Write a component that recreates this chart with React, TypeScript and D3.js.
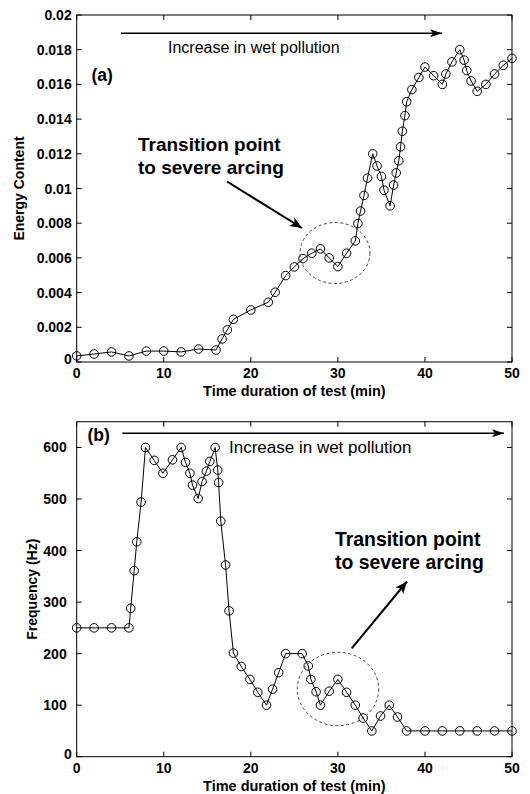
import React from 'react';
import * as d3 from 'd3';

// ---- Data ----
const energyTime = [0, 2, 4, 6, 8, 10, 12, 14, 16, 16.7, 17.3, 18, 20, 22, 22.8, 24, 25, 26, 27, 28, 29, 30, 31, 32, 32.3, 32.6, 33, 33.4, 34, 34.5, 35, 35.3, 36, 36.4, 36.7, 37, 37.2, 37.4, 37.7, 37.9, 38.5, 39.3, 40, 41, 42, 42.4, 43.1, 44, 44.5, 44.8, 45.3, 46, 47, 48, 49, 50];
const energyValue = [0.00035, 0.00046, 0.00058, 0.00035, 0.00063, 0.00063, 0.00058, 0.00075, 0.00069, 0.00133, 0.00185, 0.00246, 0.003, 0.00344, 0.00402, 0.00498, 0.00548, 0.00596, 0.00627, 0.00652, 0.006, 0.0055, 0.00627, 0.00698, 0.00798, 0.0087, 0.0096, 0.0106, 0.012, 0.0113, 0.0107, 0.0099, 0.009, 0.0102, 0.0109, 0.0116, 0.0124, 0.0133, 0.0142, 0.015, 0.0157, 0.0164, 0.017, 0.0165, 0.016, 0.0166, 0.0173, 0.018, 0.0174, 0.0168, 0.0162, 0.0156, 0.016, 0.0166, 0.0171, 0.0175];

const freqTime = [0, 2, 4, 6, 6.2, 6.6, 6.9, 7.4, 7.9, 8.9, 9.9, 11, 12, 12.5, 13, 13.3, 13.95, 14.4, 14.9, 15.3, 15.9, 16.2, 16.3, 16.55, 17.1, 17.5, 18, 18.9, 19.9, 20.8, 21.8, 22.5, 23.2, 24, 25.9, 26.6, 26.9, 27.5, 28, 29, 30, 31, 32, 32.9, 33.9, 34.9, 35.9, 36.85, 37.9, 40, 42, 44, 46, 48, 50];
const freqValue = [250, 250, 250, 250, 288, 361, 417, 494, 600, 575, 550, 576, 600, 571, 550, 527, 501, 534, 554, 573, 600, 556, 532, 457, 372, 283, 201, 175, 150, 125, 100, 131, 163, 200, 200, 176, 150, 126, 100, 127, 150, 125, 100, 75, 50, 79, 100, 77, 50, 50, 50, 50, 50, 50, 50];

const xTicks = [0, 10, 20, 30, 40, 50];
const energyTicks = [0, 0.002, 0.004, 0.006, 0.008, 0.01, 0.012, 0.014, 0.016, 0.018, 0.02];
const energyTickLabels = ['0', '0.002', '0.004', '0.006', '0.008', '0.01', '0.012', '0.014', '0.016', '0.018', '0.02'];
const freqTicks = [0, 100, 200, 300, 400, 500, 600];
const freqTickLabels = ['0', '100', '200', '300', '400', '500', '600'];

const FONT = '"Liberation Sans", Arial, Helvetica, sans-serif';
const X0 = 76.7;
const X1 = 512;

type PanelProps = {
  top: number;
  bottom: number;
  yMax: number;
  xs: number[];
  ys: number[];
  yTicks: number[];
  yTickLabels: string[];
  yLabelRight: number;
  yTitle: string;
  yTitleX: number;
};

function Panel(p: PanelProps) {
  const x = d3.scaleLinear().domain([0, 50]).range([X0, X1]);
  const y = d3.scaleLinear().domain([0, p.yMax]).range([p.bottom, p.top]);
  const pts: [number, number][] = p.xs.map((t, i) => [x(t), y(p.ys[i])]);
  const line = d3.line()(pts) || '';
  const tl = 5;
  const midY = (p.top + p.bottom) / 2;
  return (
    <g>
      <path d={line} fill="none" stroke="#000" strokeWidth={1} />
      {pts.map((d, i) => (
        <circle key={i} cx={d[0]} cy={d[1]} r={4.3} fill="none" stroke="#000" strokeWidth={1} />
      ))}
      <rect x={X0} y={p.top} width={X1 - X0} height={p.bottom - p.top} fill="none" stroke="#000" strokeWidth={1} />
      {xTicks.map((t) => (
        <g key={'x' + t}>
          <line x1={x(t)} x2={x(t)} y1={p.bottom} y2={p.bottom - tl} stroke="#000" />
          <line x1={x(t)} x2={x(t)} y1={p.top} y2={p.top + tl} stroke="#000" />
          <text x={x(t)} y={p.bottom + 16} textAnchor="middle" fontFamily={FONT} fontWeight="bold" fontSize={14}>
            {t}
          </text>
        </g>
      ))}
      {p.yTicks.map((t, i) => (
        <g key={'y' + t}>
          <line x1={X0} x2={X0 + tl} y1={y(t)} y2={y(t)} stroke="#000" />
          <line x1={X1} x2={X1 - tl} y1={y(t)} y2={y(t)} stroke="#000" />
          <text x={t === 0 ? 71.7 : p.yLabelRight} y={y(t) + (t === 0 ? 2 : 5)} textAnchor="end" fontFamily={FONT} fontWeight="bold" fontSize={14}>
            {p.yTickLabels[i]}
          </text>
        </g>
      ))}
      <text x={(X0 + X1) / 2} y={p.bottom + 34} textAnchor="middle" fontFamily={FONT} fontWeight="bold" fontSize={14.5}>
        Time duration of test (min)
      </text>
      <text transform={`translate(${p.yTitleX},${midY}) rotate(-90)`} textAnchor="middle" fontFamily={FONT} fontWeight="bold" fontSize={14}>
        {p.yTitle}
      </text>
    </g>
  );
}

export default function App() {
  return (
    <svg width={530} height={794} style={{ position: 'absolute', left: 0, top: 0, background: '#fff' }}>
      <defs>
        <marker id="ah" markerUnits="userSpaceOnUse" markerWidth={14} markerHeight={10} refX={12} refY={5} orient="auto">
          <path d="M0,1 L12,5 L0,9 L3,5 Z" fill="#000" />
        </marker>
        <marker id="ah2" markerUnits="userSpaceOnUse" markerWidth={14} markerHeight={12} refX={12} refY={6} orient="auto">
          <path d="M0,1 L12,6 L0,11 L3,6 Z" fill="#000" />
        </marker>
      </defs>
      <rect x={0} y={0} width={530} height={794} fill="#fff" />
      <Panel
        top={15}
        bottom={362}
        yMax={0.02}
        xs={energyTime}
        ys={energyValue}
        yTicks={energyTicks}
        yTickLabels={energyTickLabels}
        yLabelRight={71.7}
        yTitle="Energy Content"
        yTitleX={24}
      />
      <Panel
        top={421.7}
        bottom={756.7}
        yMax={650}
        xs={freqTime}
        ys={freqValue}
        yTicks={freqTicks}
        yTickLabels={freqTickLabels}
        yLabelRight={66.7}
        yTitle="Frequency (Hz)"
        yTitleX={37}
      />

      {/* Panel (a) annotations */}
      <line x1={121} y1={33.3} x2={442} y2={33.3} stroke="#000" strokeWidth={1.6} markerEnd="url(#ah)" />
      <text x={168} y={53} fontFamily={FONT} fontSize={16}>Increase in wet pollution</text>
      <text x={91.5} y={81} fontFamily={FONT} fontWeight="bold" fontSize={17.5}>(a)</text>
      <text x={138} y={151} fontFamily={FONT} fontWeight="bold" fontSize={19}>Transition point</text>
      <text x={138} y={173.5} fontFamily={FONT} fontWeight="bold" fontSize={19}>to severe arcing</text>
      <line x1={227} y1={181.5} x2={302} y2={228} stroke="#000" strokeWidth={2} markerEnd="url(#ah2)" />
      <ellipse cx={335} cy={253} rx={35} ry={30.5} fill="none" stroke="#444" strokeWidth={1} strokeDasharray="3,2.5" />

      {/* Panel (b) annotations */}
      <line x1={122.3} y1={433.3} x2={504} y2={433.3} stroke="#000" strokeWidth={1.6} markerEnd="url(#ah)" />
      <text x={229} y={453} fontFamily={FONT} fontSize={17}>Increase in wet pollution</text>
      <text x={87.5} y={441} fontFamily={FONT} fontWeight="bold" fontSize={17.5}>(b)</text>
      <text x={335} y={546} fontFamily={FONT} fontWeight="bold" fontSize={19.4}>Transition point</text>
      <text x={335} y={568.5} fontFamily={FONT} fontWeight="bold" fontSize={19.4}>to severe arcing</text>
      <line x1={351.7} y1={648.3} x2={407} y2={581.5} stroke="#000" strokeWidth={2} markerEnd="url(#ah2)" />
      <ellipse cx={338} cy={689} rx={40.7} ry={36.7} fill="none" stroke="#444" strokeWidth={1} strokeDasharray="3,2.5" />
    </svg>
  );
}
